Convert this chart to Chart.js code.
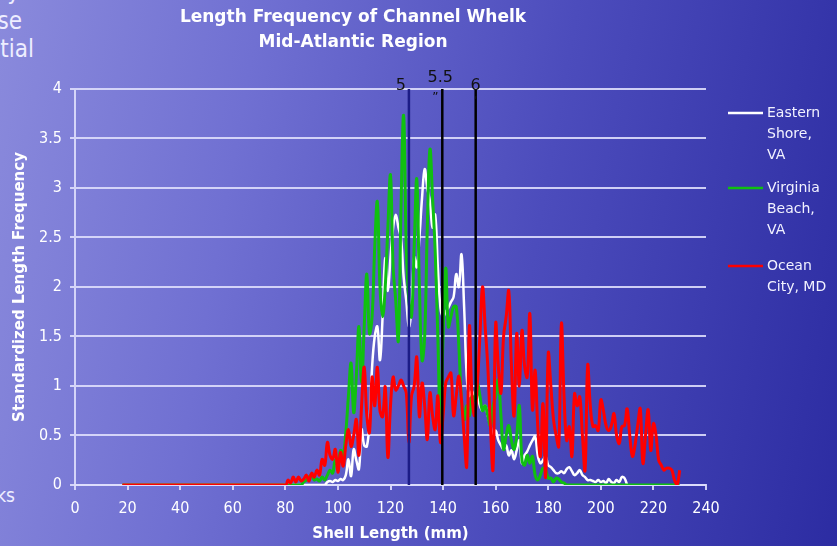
<!DOCTYPE html>
<html>
<head>
<meta charset="utf-8">
<script src="https://cdn.jsdelivr.net/npm/chart.js@4.4.1/dist/chart.umd.min.js"></script>
<style>
  html, body { margin: 0; padding: 0; }
  #wrap {
    position: relative; width: 837px; height: 546px; overflow: hidden;
    background: linear-gradient(100deg, #8a8adc 0%, #7070d2 28%, #4c4cbc 62%, #2c2ca2 100%);
  }
  #wrap canvas { position: absolute; left: 0; top: 0; }
  .frag {
    position: absolute; color: #eeeeff; line-height: 1; white-space: nowrap;
    font-family: "DejaVu Sans Condensed", "DejaVu Sans", sans-serif;
  }
</style>
</head>
<body>
<div id="wrap">
  <div class="frag" style="right:817px; top:-21px; font-size:24px;">y</div>
  <div class="frag" style="right:815px; top:9px; font-size:24px;">se</div>
  <div class="frag" style="right:803px; top:37px; font-size:24px;">ntial</div>
  <div class="frag" style="right:822px; top:486px; font-size:19px;">ks</div>
  <canvas id="chart" width="837" height="546"></canvas>
</div>
<script>
// shell length classes (mm): one lead-in class at 18, then every mm from 80 to 230
const shellLengths = [18].concat(Array.from({ length: 151 }, (_, i) => 80 + i));

const seriesNames = ["Eastern Shore, VA", "Virginia Beach, VA", "Ocean City, MD"];
const legendLines = [["Eastern", "Shore,", "VA"], ["Virginia", "Beach,", "VA"], ["Ocean", "City, MD"]];

// Eastern Shore, VA (18, then 80..210)
const easternShore = [0,
  0, 0, 0, 0, 0, 0, 0, 0, 0, 0,
  0, 0, 0, 0, 0, 0, 0.03, 0.04, 0.03, 0.05,
  0.04, 0.06, 0.05, 0.1, 0.26, 0.09, 0.36, 0.25, 0.16, 0.56,
  0.4, 0.39, 0.63, 1.19, 1.5, 1.6, 1.26, 1.7, 2.29, 1.96,
  2.3, 2.6, 2.73, 2.6, 2.49, 2.1, 1.86, 1.6, 1.79, 2.3,
  2.2, 2.5, 2.9, 3.19, 3.0, 2.86, 2.6, 2.73, 2.2, 1.79,
  1.7, 1.75, 1.79, 1.85, 1.9, 2.13, 2.0, 2.33, 1.8, 1.1,
  0.9, 0.95, 0.85, 0.9, 0.8, 0.75, 0.8, 0.7, 0.6, 0.5,
  0.55, 0.45, 0.4, 0.36, 0.4, 0.3, 0.35, 0.26, 0.35, 0.45,
  0.22, 0.3, 0.34, 0.4, 0.45, 0.49, 0.3, 0.22, 0.25, 0.29,
  0.2, 0.18, 0.15, 0.12, 0.12, 0.14, 0.12, 0.16, 0.18, 0.14,
  0.1, 0.12, 0.15, 0.1, 0.08, 0.05, 0.05, 0.04, 0.03, 0.05,
  0.03, 0.04, 0.02, 0.06, 0.03, 0.02, 0.05, 0.03, 0.08, 0.07,
  0];

// Virginia Beach, VA (18, then 80..230)
const virginiaBeach = [0,
  0, 0, 0, 0, 0, 0, 0, 0.03, 0.05, 0.08,
  0.1, 0.05, 0.06, 0.04, 0.08, 0.05, 0.1, 0.15, 0.12, 0.25,
  0.2, 0.35, 0.3, 0.53, 0.9, 1.23, 0.73, 1.1, 1.6, 1.03,
  1.6, 2.13, 1.53, 1.7, 2.4, 2.86, 2.0, 1.7, 2.0, 2.6,
  3.13, 2.2, 1.86, 1.46, 2.8, 3.73, 2.4, 1.86, 1.7, 2.4,
  3.09, 2.0, 1.26, 1.5, 2.6, 3.39, 2.9, 2.36, 1.5, 0.59,
  1.5, 2.19, 1.6, 1.7, 1.8, 1.8, 1.4, 0.86, 0.66, 0.8,
  0.7, 0.9, 0.85, 1.03, 0.9, 0.75, 0.8, 0.7, 0.6, 0.8,
  0.9, 1.06, 0.7, 0.36, 0.5, 0.6, 0.45, 0.36, 0.5, 0.8,
  0.25, 0.2, 0.3, 0.22, 0.29, 0.1, 0.05, 0.1, 0.17, 0.15,
  0.07, 0.07, 0.03, 0.07, 0.06, 0.03, 0.02, 0, 0, 0,
  0, 0, 0, 0, 0, 0, 0, 0, 0, 0,
  0, 0, 0, 0, 0, 0, 0, 0, 0, 0,
  0, 0, 0, 0, 0, 0, 0, 0, 0, 0,
  0, 0, 0, 0, 0, 0, 0, 0, 0, 0,
  0];

// Ocean City, MD (18, then 80..230)
const oceanCity = [0,
  0, 0.05, 0.02, 0.08, 0.03, 0.08, 0.04, 0.06, 0.1, 0.04,
  0.12, 0.08, 0.15, 0.1, 0.26, 0.2, 0.43, 0.3, 0.26, 0.36,
  0.13, 0.33, 0.19, 0.4, 0.56, 0.39, 0.5, 0.66, 0.3, 0.8,
  1.19, 0.7, 0.53, 1.09, 0.8, 1.19, 0.75, 0.69, 0.99, 0.28,
  0.8, 1.09, 0.96, 1.0, 1.06, 1.0, 0.93, 0.43, 0.9, 1.0,
  1.29, 0.69, 1.03, 0.8, 0.46, 0.93, 0.7, 0.56, 0.9, 0.43,
  0.7, 1.03, 1.09, 1.13, 0.7, 0.9, 1.1, 0.86, 0.5, 0.19,
  1.6, 0.9, 0.7, 1.0, 1.5, 2.0, 1.6, 1.2, 0.6, 0.16,
  1.63, 1.2, 0.93, 1.5, 1.7, 1.96, 1.2, 0.7, 1.53, 1.0,
  1.56, 1.2, 1.09, 1.73, 0.76, 1.16, 0.6, 0.29, 0.82, 0.08,
  1.33, 1.0, 0.66, 0.5, 0.39, 1.63, 0.9, 0.45, 0.59, 0.29,
  0.92, 0.8, 0.89, 0.5, 0.15, 1.21, 0.8, 0.59, 0.6, 0.55,
  0.86, 0.75, 0.6, 0.55, 0.6, 0.72, 0.5, 0.42, 0.59, 0.6,
  0.77, 0.5, 0.29, 0.4, 0.6, 0.77, 0.22, 0.5, 0.76, 0.35,
  0.62, 0.5, 0.25, 0.2, 0.15, 0.17, 0.17, 0.15, 0.05, 0,
  0.15];

// inch marks drawn as vertical lines (mm)
const markerMm = [127, 139.7, 152.4];
const markerLabels = ["5", "5.5", "6"];
const markerColors = ["#1c1c86", "#000000", "#000000"];

const xTicksMax = 240;
const yTicksMax = 4;

function toPoints(values) {
  return values.map((v, i) => ({ x: shellLengths[i], y: v }));
}

const seriesColors = ["#ffffff", "#10c010", "#ff0000"];
const seriesValues = [easternShore, virginiaBeach, oceanCity];

const datasets = seriesValues.map((vals, i) => ({
  label: seriesNames[i],
  data: toPoints(vals),
  borderColor: seriesColors[i],
  borderWidth: i === 0 ? 2.5 : 3,
  pointRadius: 0,
  tension: 0.4,
  fill: false,
  order: 3 - i,
  isSeries: true,
}));

markerMm.forEach((mm, i) => {
  datasets.push({
    label: markerLabels[i],
    data: [{ x: mm, y: 0 }, { x: mm, y: yTicksMax }],
    borderColor: markerColors[i],
    borderWidth: 2.5,
    pointRadius: 0,
    tension: 0,
    order: 0,
    isSeries: false,
  });
});

const overlayPlugin = {
  id: "overlay",
  afterDraw(chart) {
    const ctx = chart.ctx;
    const xs = chart.scales.x;
    ctx.save();
    // inch labels above the marker lines
    ctx.fillStyle = "#111111";
    ctx.font = "16px 'DejaVu Sans', sans-serif";
    ctx.textBaseline = "alphabetic";
    markerMm.forEach((mm, i) => {
      const px = xs.getPixelForValue(mm);
      if (i === 0) {
        ctx.textAlign = "right";
        ctx.fillText(markerLabels[i], px - 3, 90);
      } else if (i === 1) {
        ctx.textAlign = "center";
        ctx.fillText(markerLabels[i], px - 2, 82);
        ctx.font = "12px 'DejaVu Sans', sans-serif";
        ctx.fillText("\u201D", px - 7, 101);
        ctx.font = "16px 'DejaVu Sans', sans-serif";
      } else {
        ctx.textAlign = "center";
        ctx.fillText(markerLabels[i], px, 90);
        ctx.font = "12px 'DejaVu Sans', sans-serif";
        ctx.fillText("\u2019", px, 105);
        ctx.font = "16px 'DejaVu Sans', sans-serif";
      }
    });

    // legend on the right
    const itemTops = [113, 188, 266];
    ctx.font = "14px 'DejaVu Sans', sans-serif";
    ctx.textAlign = "left";
    ctx.textBaseline = "middle";
    chart.data.datasets.filter(d => d.isSeries).forEach((d, i) => {
      const y = itemTops[i];
      ctx.strokeStyle = d.borderColor;
      ctx.lineWidth = 2.5;
      ctx.beginPath();
      ctx.moveTo(728, y);
      ctx.lineTo(763, y);
      ctx.stroke();
      ctx.fillStyle = "#f2f2ff";
      legendLines[i].forEach((t, j) => ctx.fillText(t, 767, y + j * 21));
    });
    ctx.restore();
  },
};

const gridColor = "rgba(222,222,252,0.9)";
const tickFont = { family: "'DejaVu Sans Condensed', 'DejaVu Sans', sans-serif", size: 16 };

new Chart(document.getElementById("chart").getContext("2d"), {
  type: "line",
  data: { datasets: datasets },
  options: {
    responsive: false,
    animation: false,
    events: [],
    layout: { padding: { left: 0, right: 131, top: 0, bottom: 0 } },
    plugins: {
      legend: { display: false },
      tooltip: { enabled: false },
      title: {
        display: true,
        text: ["Length Frequency of Channel Whelk", "Mid-Atlantic Region"],
        color: "#ffffff",
        font: { family: "'DejaVu Sans', sans-serif", size: 17, weight: "bold", lineHeight: 1.47 },
        padding: { top: 5, bottom: 34 },
      },
    },
    scales: {
      x: {
        type: "linear",
        min: 0,
        max: xTicksMax,
        ticks: { stepSize: 20, color: "#ffffff", font: tickFont, padding: 9, maxRotation: 0 },
        grid: { drawOnChartArea: false, drawTicks: true, tickLength: 5, color: gridColor, lineWidth: 2 },
        border: { display: true, color: gridColor, width: 2 },
        title: {
          display: true,
          text: "Shell Length (mm)",
          color: "#ffffff",
          font: { family: "'DejaVu Sans', sans-serif", size: 15, weight: "bold" },
          padding: { top: 0, bottom: 3 },
        },
        afterFit(scale) { scale.height = 61; },
      },
      y: {
        min: 0,
        max: yTicksMax,
        ticks: { stepSize: 0.5, color: "#ffffff", font: tickFont, padding: 8, callback: (v) => String(v) },
        grid: { color: gridColor, lineWidth: 2, tickLength: 5 },
        border: { display: true, color: gridColor, width: 2 },
        title: {
          display: true,
          text: "Standardized Length Frequency",
          color: "#ffffff",
          font: { family: "'DejaVu Sans', sans-serif", size: 15, weight: "bold" },
          padding: { top: 11, bottom: 0 },
        },
        afterFit(scale) { scale.width = 75; },
      },
    },
  },
  plugins: [overlayPlugin],
});
</script>
</body>
</html>
